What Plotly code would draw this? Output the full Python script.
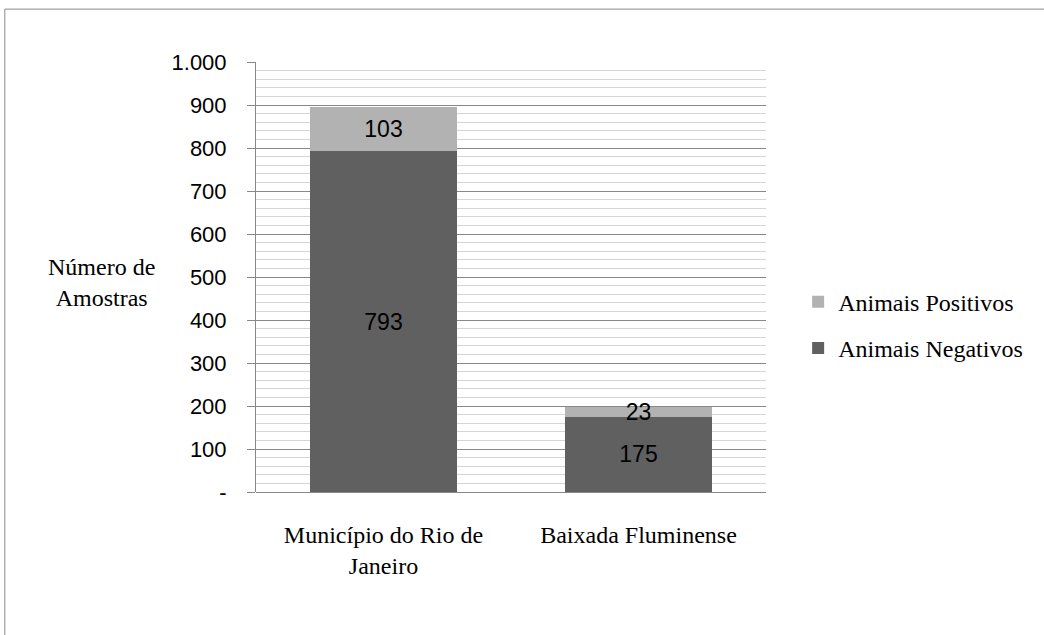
import plotly.graph_objects as go

categories = ["Município do Rio de<br>Janeiro", "Baixada Fluminense"]
negativos = [793, 175]
positivos = [103, 23]
y_tickvals = [0, 100, 200, 300, 400, 500, 600, 700, 800, 900, 1000]
y_ticktext = ["-", "100", "200", "300", "400", "500", "600", "700", "800", "900", "1.000"]

SERIF = "Liberation Serif, Times New Roman, serif"
SANS = "Liberation Sans, Arial, sans-serif"

fig = go.Figure()
fig.add_trace(go.Bar(
    x=categories, y=negativos, name="Animais Negativos", legendgroup="neg", legendrank=2,
    marker=dict(color="#606060", line=dict(width=0)),
    text=[str(v) for v in negativos], textposition="inside", insidetextanchor="middle",
    textangle=0,
    textfont=dict(family=SANS, size=23, color="#000000"),
    width=0.575,
))
fig.add_trace(go.Bar(
    x=categories, y=positivos, name="Animais Positivos", legendgroup="pos", legendrank=1,
    marker=dict(color="#b2b2b2", line=dict(width=0)),
    text=[str(v) for v in positivos], textposition="inside", insidetextanchor="middle",
    textangle=0,
    textfont=dict(family=SANS, size=23, color="#000000"),
    width=0.575,
))

fig.update_layout(
    barmode="stack",
    width=1044, height=635,
    margin=dict(l=256, r=278, t=62, b=143),
    paper_bgcolor="white", plot_bgcolor="white",
    uniformtext=dict(minsize=23, mode="show"),
    showlegend=True,
    legend=dict(
        x=1.063, y=0.388, xanchor="left", yanchor="middle",
        traceorder="grouped",
        font=dict(family=SERIF, size=24, color="#000000"),
        itemwidth=30, tracegroupgap=12,
        bgcolor="rgba(0,0,0,0)",
    ),
    xaxis=dict(
        showgrid=False, showline=False, ticks="",
        tickfont=dict(family=SERIF, size=24, color="#000000"),
        ticklabelstandoff=26,
    ),
    yaxis=dict(
        range=[0, 1000],
        tickvals=y_tickvals, ticktext=y_ticktext,
        tickfont=dict(family=SANS, size=22, color="#000000"),
        ticks="outside", ticklen=8, tickcolor="#888888", tickwidth=1,
        ticklabelstandoff=16,
        showgrid=True, gridcolor="#888888", gridwidth=1,
        minor=dict(dtick=20, showgrid=True, gridcolor="#d4d4d4", gridwidth=1, ticks=""),
        showline=True, linecolor="#888888", linewidth=1,
        zeroline=True, zerolinecolor="#888888", zerolinewidth=1,
    ),
    shapes=[dict(
        type="rect", xref="paper", yref="paper",
        x0=-0.4925, x1=2.0, y0=-1.0, y1=1.123,
        line=dict(color="#888888", width=1), fillcolor="rgba(0,0,0,0)", layer="below",
    )],
    annotations=[dict(
        text="Número de<br>Amostras", xref="paper", yref="paper",
        x=-0.302, y=0.488, xanchor="center", yanchor="middle", showarrow=False,
        font=dict(family=SERIF, size=24, color="#000000"),
        align="center",
    )],
)

fig.write_html("out.html")
